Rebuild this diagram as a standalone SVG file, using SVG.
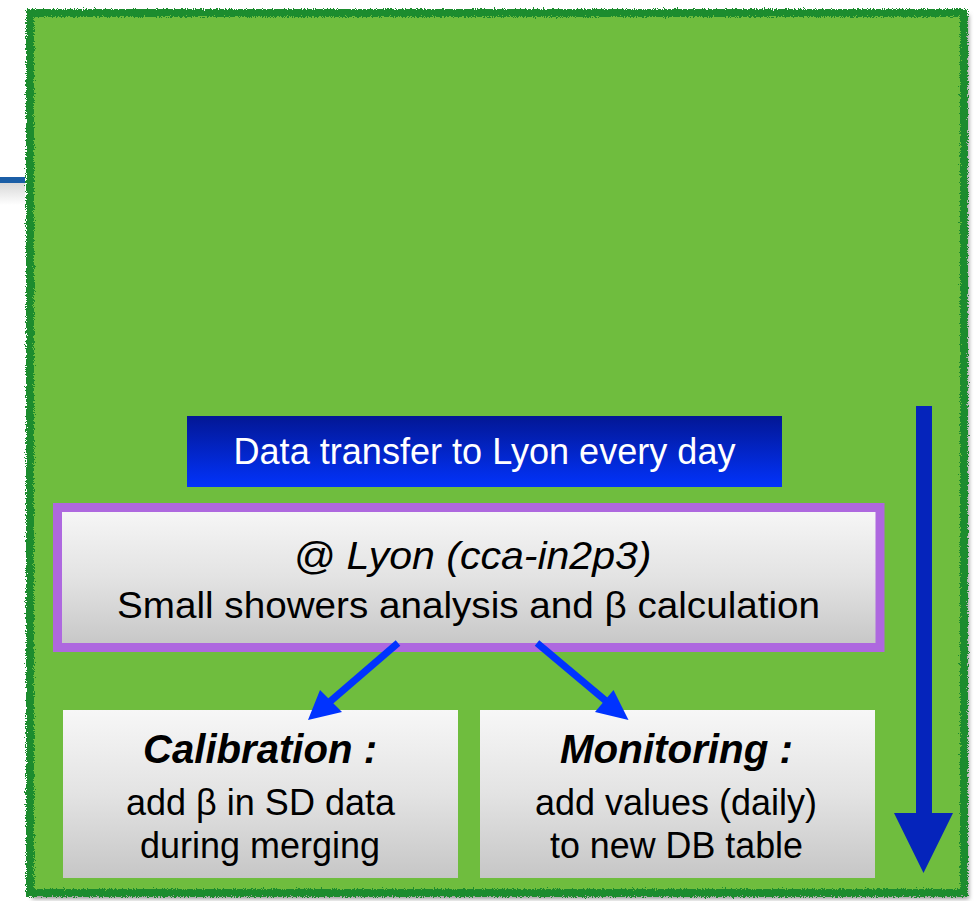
<svg xmlns="http://www.w3.org/2000/svg" width="979" height="901" viewBox="0 0 979 901">
  <style>
    text { font-family: "Liberation Sans", Arial, Helvetica, sans-serif; fill: #000; }
    .white { fill: #fff; }
    .body { font-size: 36px; }
    .title { font-size: 40px; font-weight: bold; font-style: italic; }
    .ital { font-size: 38px; font-style: italic; }
    .conn { stroke: #0033ff; stroke-width: 7; fill: none; }
  </style>
  <defs>
    <linearGradient id="greyGrad" x1="0" y1="0" x2="0" y2="1">
      <stop offset="0" stop-color="#f7f7f7"/>
      <stop offset="0.5" stop-color="#e3e3e3"/>
      <stop offset="1" stop-color="#c6c6c6"/>
    </linearGradient>
    <linearGradient id="blueGrad" x1="0" y1="0" x2="0" y2="1">
      <stop offset="0" stop-color="#031794"/>
      <stop offset="1" stop-color="#0233fb"/>
    </linearGradient>
    <linearGradient id="lineShadow" x1="0" y1="0" x2="0" y2="1">
      <stop offset="0" stop-color="#d8d8d8"/>
      <stop offset="1" stop-color="#ffffff"/>
    </linearGradient>
    <filter id="rough" x="-5%" y="-5%" width="110%" height="110%">
      <feTurbulence type="fractalNoise" baseFrequency="0.9" numOctaves="2" seed="3" result="noise"/>
      <feDisplacementMap in="SourceGraphic" in2="noise" scale="6" xChannelSelector="R" yChannelSelector="G"/>
    </filter>
    <filter id="shadow" x="-5%" y="-5%" width="110%" height="110%">
      <feGaussianBlur stdDeviation="2"/>
    </filter>
  </defs>

  <rect width="979" height="901" fill="#ffffff"/>

  <!-- left fragment line -->
  <g id="left-line">
    <rect x="0" y="183" width="25" height="22" fill="url(#lineShadow)"/>
    <rect x="0" y="177" width="25" height="6" fill="#1b5ea6"/>
  </g>

  <!-- container -->
  <g id="container">
    <rect x="32" y="15" width="937" height="884" fill="#9a9a9a" filter="url(#shadow)"/>
    <rect x="30" y="13" width="934" height="880" fill="#6fbd3e"/>
    <rect x="30" y="13" width="934" height="880" fill="none" stroke="#1e8c2e" stroke-width="8" filter="url(#rough)"/>
  </g>

  <g id="transfer">
    <rect x="187" y="416" width="595" height="71" fill="url(#blueGrad)"/>
    <text class="body white" x="484.5" y="463.5" text-anchor="middle" textLength="502" lengthAdjust="spacingAndGlyphs">Data transfer to Lyon every day</text>
  </g>

  <g id="lyon">
    <rect x="57.5" y="507.5" width="822.5" height="140" fill="url(#greyGrad)" stroke="#ae68df" stroke-width="9"/>
    <text class="ital" x="472.5" y="569" text-anchor="middle" textLength="358" lengthAdjust="spacingAndGlyphs">@ Lyon (cca-in2p3)</text>
    <text class="body" x="468.5" y="617.5" text-anchor="middle" textLength="703" lengthAdjust="spacingAndGlyphs">Small showers analysis and β calculation</text>
  </g>

  <g id="calibration">
    <rect x="63" y="710" width="395" height="168" fill="url(#greyGrad)"/>
    <text class="title" x="260" y="763" text-anchor="middle" textLength="234" lengthAdjust="spacingAndGlyphs">Calibration :</text>
    <text class="body" x="260.5" y="815" text-anchor="middle" textLength="269" lengthAdjust="spacingAndGlyphs">add β in SD data</text>
    <text class="body" x="260" y="857.5" text-anchor="middle" textLength="240" lengthAdjust="spacingAndGlyphs">during merging</text>
  </g>

  <g id="monitoring">
    <rect x="480" y="710" width="395" height="168" fill="url(#greyGrad)"/>
    <text class="title" x="676.5" y="763" text-anchor="middle" textLength="233" lengthAdjust="spacingAndGlyphs">Monitoring :</text>
    <text class="body" x="676" y="815" text-anchor="middle" textLength="282" lengthAdjust="spacingAndGlyphs">add values (daily)</text>
    <text class="body" x="676.5" y="857.5" text-anchor="middle" textLength="253" lengthAdjust="spacingAndGlyphs">to new DB table</text>
  </g>

  <g id="connectors">
    <line class="conn" x1="398" y1="643" x2="326" y2="705"/>
    <polygon points="308,720 320,690 342,712" fill="#0033ff"/>
    <line class="conn" x1="537" y1="643" x2="612" y2="706"/>
    <polygon points="628.5,720 613.5,690 595,712" fill="#0033ff"/>
    <polygon points="916,406 932,406 932,813 953,813 923.5,873 894,813 916,813" fill="#0524bb"/>
  </g>
</svg>
